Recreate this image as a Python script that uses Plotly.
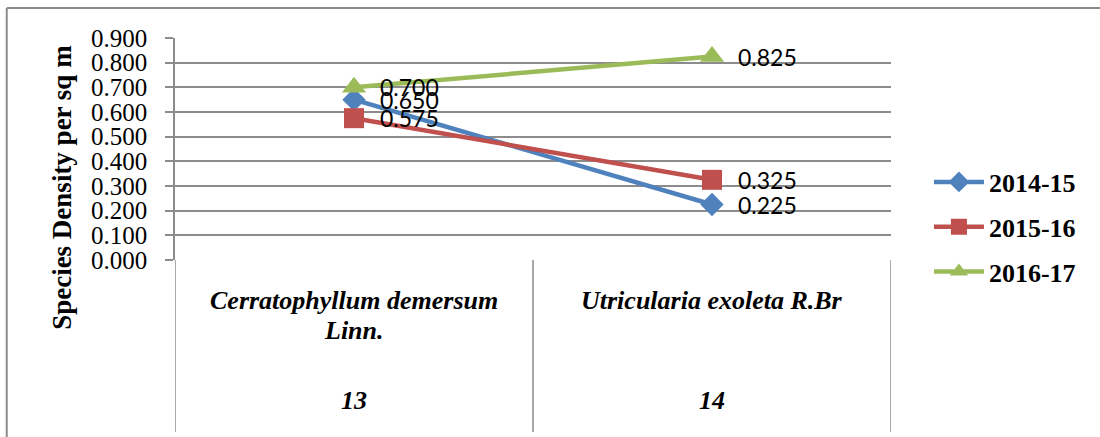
import plotly.graph_objects as go

# Species and their serial numbers
species = ["Cerratophyllum demersum<br>Linn.", "Utricularia exoleta R.Br"]
serials = ["13", "14"]

# Density per square metre for each season
seasons = ["2014-15", "2015-16", "2016-17"]
density_2014_15 = [0.650, 0.225]
density_2015_16 = [0.575, 0.325]
density_2016_17 = [0.700, 0.825]

y_ticks = [0.0, 0.1, 0.2, 0.3, 0.4, 0.5, 0.6, 0.7, 0.8, 0.9]

colors = ["#4F81BD", "#C0504D", "#9BBB59"]
symbols = ["diamond", "square", "triangle-up"]
sizes = [18, 20, 21]
series = [density_2014_15, density_2015_16, density_2016_17]

x_idx = list(range(len(species)))

fig = go.Figure()
for name, vals, col, sym, sz in zip(seasons, series, colors, symbols, sizes):
    fig.add_trace(go.Scatter(
        x=x_idx, y=vals, name=name, mode="lines+markers",
        line=dict(color=col, width=4.5),
        marker=dict(symbol=sym, size=sz, color=col),
        legendgroup=name,
    ))
    for xi, v in zip(x_idx, vals):
        fig.add_annotation(
            x=xi, y=v, text=f"{v:.3f}", showarrow=False,
            xanchor="left", yanchor="middle", xshift=24,
            font=dict(family="Lato", size=23, color="#000"),
        )

serif = "Liberation Serif"

# Category labels beneath the plot, one annotation per text line
line_pitch = 30 / 222
for xi, (sp, sn) in enumerate(zip(species, serials)):
    for k, part in enumerate(sp.split("<br>")):
        fig.add_annotation(
            x=xi, y=-40 / 222 - k * line_pitch, xref="x", yref="paper",
            text=f"<b><i>{part}</i></b>", showarrow=False, yanchor="middle",
            font=dict(family=serif, size=26, color="#000"),
        )
    fig.add_annotation(
        x=xi, y=-140 / 222, xref="x", yref="paper", text=f"<b><i>{sn}</i></b>",
        showarrow=False, yanchor="middle",
        font=dict(family=serif, size=26, color="#000"),
    )

# Divider lines of the category axis
grid_col = "#8c8c8c"
for xd in [-0.5, 0.5, 1.5]:
    fig.add_shape(type="line", xref="x", yref="paper", x0=xd, x1=xd,
                  y0=0, y1=-0.775, line=dict(color=grid_col, width=1.5))

# Outer chart border (top and left)
fig.add_shape(type="line", xref="paper", yref="paper",
              x0=-0.235, x1=1.4, y0=1.135, y1=1.135,
              line=dict(color="#8c8c8c", width=2))
fig.add_shape(type="line", xref="paper", yref="paper",
              x0=-0.235, x1=-0.235, y0=1.135, y1=-0.8,
              line=dict(color="#8c8c8c", width=2))

# Y axis title
fig.add_annotation(
    x=-0.158, y=(260 - 187) / 222, xref="paper", yref="paper",
    xanchor="center", yanchor="middle",
    text="<b>Species Density per sq m</b>", textangle=-90, showarrow=False,
    font=dict(family=serif, size=27, color="#000"),
)

fig.update_layout(
    width=1100, height=437,
    margin=dict(l=175, r=209, t=38, b=177),
    plot_bgcolor="white", paper_bgcolor="white",
    showlegend=True,
    legend=dict(
        x=1.053, y=(260 - 227) / 222, xanchor="left", yanchor="middle",
        font=dict(family=serif, size=26, color="#000", weight="bold"),
        tracegroupgap=8, itemwidth=50,
    ),
)
fig.update_xaxes(
    range=[-0.5, 1.5], showticklabels=False, showgrid=False,
    zeroline=False, showline=False, ticks="",
)
fig.update_yaxes(
    range=[0, 0.9], tickvals=y_ticks, ticktext=[f"{t:.3f}" for t in y_ticks],
    showgrid=True, gridcolor=grid_col, gridwidth=1.5,
    showline=True, linecolor=grid_col, linewidth=1.5,
    ticks="outside", ticklen=8, tickcolor=grid_col, tickwidth=1.5,
    zeroline=False, ticklabelstandoff=13,
    tickfont=dict(family=serif, size=25, color="#000"),
)

fig.write_html("out.html")
